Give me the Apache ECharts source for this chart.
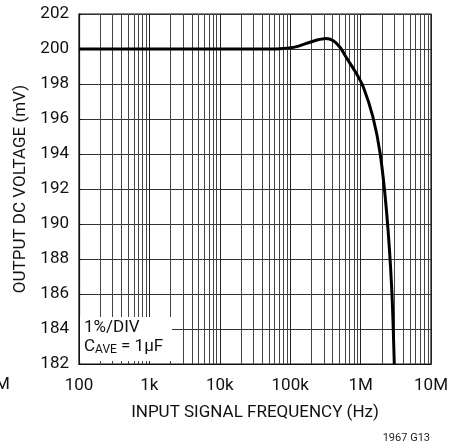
<!DOCTYPE html>
<html><head><meta charset="utf-8">
<script src="https://cdn.jsdelivr.net/npm/echarts@6/dist/echarts.min.js"></script>
<style>html,body{margin:0;padding:0;background:#fff}#c{width:464px;height:448px}</style>
</head><body><div id="c"></div>
<script>
var freqHz = [100, 1000, 10000, 50000, 80000, 120000, 170000, 240000, 320000, 410000, 510000, 630000, 880000, 1100000, 1500000, 1900000, 2350000, 2760000, 3010000];
var outputMv = [200.0, 200.0, 200.0, 200.0, 200.03, 200.12, 200.32, 200.51, 200.6, 200.47, 200.1, 199.5, 198.57, 197.8, 196.1, 194.0, 190.6, 186.4, 182.0];
var xTickLabels = {100:'100', 1000:'1k', 10000:'10k', 100000:'100k', 1000000:'1M', 10000000:'10M'};
var yMin = 182, yMax = 202, yStep = 2;
var minorFreqs = [];
[100, 1000, 10000, 100000, 1000000].forEach(function(d){ for (var k = 2; k <= 9; k++) minorFreqs.push(d * k); });

var FONT = 'Roboto, "Liberation Sans", sans-serif';
var chart = echarts.init(document.getElementById('c'));
chart.setOption({
  animation: false,
  grid: {left: 79, right: 33, top: 14, bottom: 84, show: true, borderColor: '#111', borderWidth: 1.2, backgroundColor: 'transparent'},
  xAxis: {
    type: 'log', logBase: 10, min: 100, max: 10000000,
    name: 'INPUT SIGNAL FREQUENCY (Hz)', nameLocation: 'middle', nameGap: 40,
    nameTextStyle: {fontFamily: FONT, fontSize: 17, color: '#111'},
    axisLine: {show: true, lineStyle: {color: '#111', width: 1.2}},
    axisTick: {show: false},
    axisLabel: {fontFamily: FONT, fontSize: 17, color: '#111', margin: 13,
      formatter: function(v){ return xTickLabels[Math.round(v)] || ''; }},
    splitLine: {show: true, lineStyle: {color: '#222', width: 1}},
    minorTick: {show: false}, minorSplitLine: {show: false}
  },
  yAxis: {
    type: 'value', min: yMin, max: yMax, interval: yStep,
    name: 'OUTPUT DC VOLTAGE (mV)', nameLocation: 'middle', nameGap: 47,
    nameTextStyle: {fontFamily: FONT, fontSize: 17, color: '#111'},
    axisLine: {show: true, lineStyle: {color: '#111', width: 1.2}},
    axisTick: {show: true, inside: true, length: 3, lineStyle: {color: '#111'}},
    axisLabel: {fontFamily: FONT, fontSize: 17, color: '#111', margin: 10},
    splitLine: {show: true, lineStyle: {color: '#333', width: 1}}
  },
  series: [
    {
      type: 'line', data: [], z: 1, silent: true,
      markLine: {
        silent: true, symbol: 'none', animation: false,
        label: {show: false},
        lineStyle: {color: '#444', width: 1, type: 'solid'},
        data: minorFreqs.map(function(f){ return {xAxis: f}; })
      }
    },
    {
      type: 'line', z: 5, smooth: 0.3, showSymbol: false, clip: true,
      lineStyle: {color: '#000', width: 3},
      data: freqHz.map(function(f, i){ return [f, outputMv[i]]; })
    }
  ],
  graphic: [
    {type: 'rect', z: 100, shape: {x: 80, y: 317, width: 92, height: 44}, style: {fill: '#fff'}},
    {type: 'text', z: 101, left: 84, top: 319, style: {text: '1%/DIV', font: '17px ' + FONT, fill: '#111'}},
    {type: 'text', z: 101, left: 84, top: 338, style: {
      text: '{a|C}{b|AVE}{a| = 1µF}',
      rich: {a: {fontFamily: FONT, fontSize: 17, fill: '#111', color: '#111'},
             b: {fontFamily: FONT, fontSize: 12, fill: '#111', color: '#111', verticalAlign: 'bottom', padding: [6,0,0,0]}}
    }},
    {type: 'text', z: 101, right: 34, top: 433, style: {text: '1967 G13', font: '11px ' + FONT, fill: '#222'}},
    {type: 'text', z: 101, left: -5, top: 376, style: {text: 'M', font: '17px ' + FONT, fill: '#111'}}
  ]
});
</script></body></html>
